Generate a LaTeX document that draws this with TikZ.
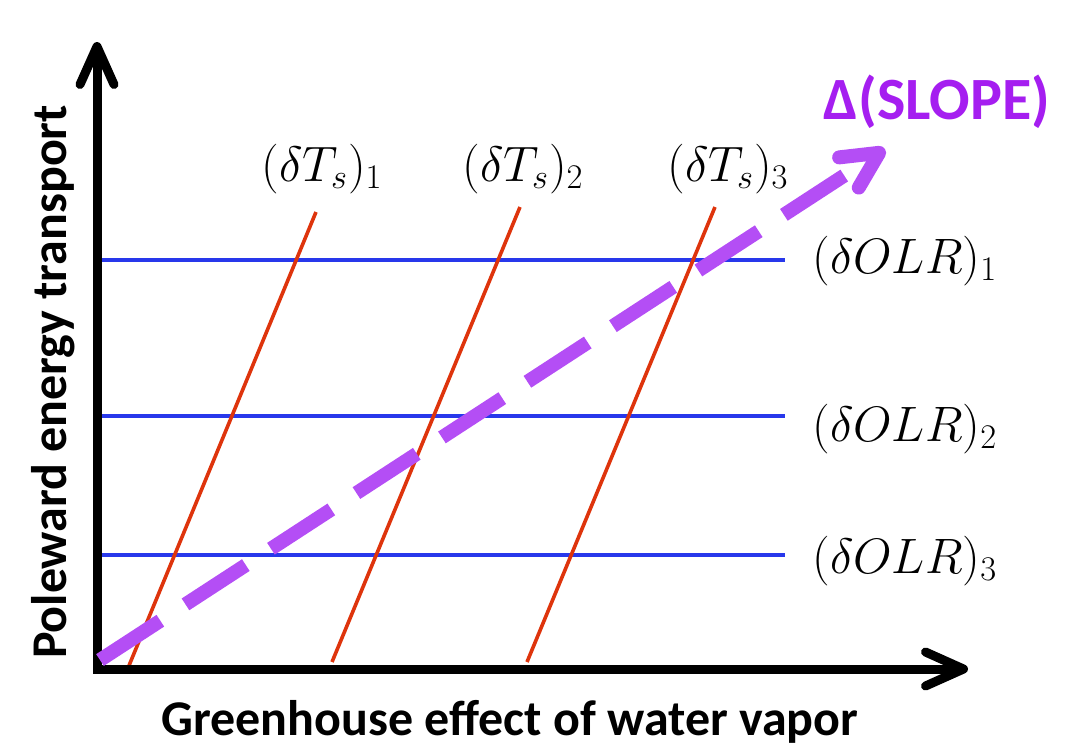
\documentclass[tikz,border=0pt]{standalone}
\usepackage{amsmath}
\usepackage{fontspec}
\usetikzlibrary{arrows.meta}
\newfontfamily\calibri{Carlito}
\definecolor{olrblue}{RGB}{40,56,235}
\definecolor{tsred}{RGB}{222,52,12}
\definecolor{slopeline}{RGB}{180,78,245}
\definecolor{slopetext}{RGB}{165,30,240}

\begin{document}
\begin{tikzpicture}[x=0.5pt,y=-0.5pt,
    barb/.tip={Straight Barb[length=19pt,width=17pt,line cap=round,line join=round]},
    axis/.style={line width=4.5pt,black,line join=miter,barb-barb},
    olr/.style={line width=1.6pt,olrblue},
    ts/.style={line width=1.8pt,tsred},
    slope/.style={line width=7pt,slopeline,dash pattern=on 36pt off 15pt,
      -{Straight Barb[length=18pt,width=18pt,line cap=round,line join=round]}},
    mathlbl/.style={font=\fontsize{25}{30}\selectfont,inner sep=0pt},
    axlbl/.style={font=\calibri\bfseries\fontsize{25}{29}\selectfont,inner sep=0pt}]
  \useasboundingbox (0,0) rectangle (1066,752);

  % axes
  \coordinate (O) at (97,669);
  \coordinate (ytip) at (97,42);
  \coordinate (xtip) at (968,669);

  % constant OLR lines
  \foreach \y/\n in {260/1,416/2,555/3}{
    \coordinate (olr\n a) at (97,\y);
    \coordinate (olr\n b) at (785,\y);
    \draw[olr] (olr\n a) -- (olr\n b);
  }

  % constant Ts lines
  \coordinate (ts1a) at (128,668); \coordinate (ts1b) at (316,212);
  \coordinate (ts2a) at (332,662); \coordinate (ts2b) at (520,207);
  \coordinate (ts3a) at (527,662); \coordinate (ts3b) at (715,207);
  \foreach \n in {1,2,3}
    \draw[ts] (ts\n a) -- (ts\n b);

  \draw[axis] (ytip) -- (O) -- (xtip);

  % change of slope
  \coordinate (s0) at (100,660);
  \coordinate (s1) at (885,149);
  \draw[slope] (s0) -- (s1);

  % labels
  \node[mathlbl,anchor=base] (lts1) at (322,181) {$(\delta T_s)_1$};
  \node[mathlbl,anchor=base] (lts2) at (523,181) {$(\delta T_s)_2$};
  \node[mathlbl,anchor=base] (lts3) at (728,181) {$(\delta T_s)_3$};
  \node[mathlbl,anchor=base west] (lolr1) at (812,273) {$(\delta OLR)_1$};
  \node[mathlbl,anchor=base west] (lolr2) at (812,441) {$(\delta OLR)_2$};
  \node[mathlbl,anchor=base west] (lolr3) at (812,573) {$(\delta OLR)_3$};
  \node[axlbl,text=slopetext,font=\calibri\bfseries\fontsize{30}{34}\selectfont] (lslope) at (937,102) {Δ(SLOPE)};
  \node[axlbl,anchor=base] (xlbl) at (510,735) {Greenhouse effect of water vapor};
  \node[axlbl,anchor=base,rotate=90] (ylbl) at (66,382) {Poleward energy transport};
\end{tikzpicture}
\end{document}
